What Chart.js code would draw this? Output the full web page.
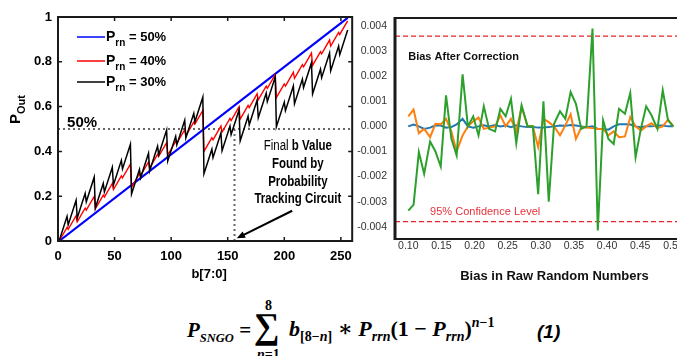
<!DOCTYPE html>
<html>
<head>
<meta charset="utf-8">
<title>Probability tracking and bias correction</title>
<script src="https://cdn.jsdelivr.net/npm/chart.js@4.4.1/dist/chart.umd.min.js"></script>
<style>
  html, body { margin: 0; padding: 0; background: #fff; }
  body { width: 677px; height: 356px; overflow: hidden; position: relative; }
  canvas { position: absolute; top: 0; }
  #left { left: 0; }
  #right { left: 330px; }
  .eq { position: absolute; white-space: nowrap; font-family: "Liberation Serif", "DejaVu Serif", serif; font-weight: bold; color: #000; line-height: 24px; }
  .eq i { font-style: italic; }
  .eq sub { font-size: 14px; vertical-align: -5px; line-height: 0; }
  .eq sup { font-size: 14px; vertical-align: 9px; line-height: 0; }
  .eq sub.small { font-size: 12.5px; }
</style>
</head>
<body>
<canvas id="left" width="360" height="285"></canvas>
<canvas id="right" width="365" height="290"></canvas>

<div class="eq" style="left:187px; top:318px; font-size:21px;"><i>P</i><sub class="small"><i>SNGO</i></sub> =</div>
<div class="eq" style="left:265px; top:294px; font-size:14px;">8</div>
<div class="eq" style="left:254px; top:306px; font-size:36px; line-height:40px;">∑</div>
<div class="eq" style="left:257px; top:343px; font-size:14px;"><i>n</i>=1</div>
<div class="eq" style="left:289px; top:317px; font-size:22px;"><i>b</i><sub>[8−<i>n</i>]</sub> ∗ <i>P</i><sub><i>rrn</i></sub>(1 − <i>P</i><sub><i>rrn</i></sub>)<sup><i>n</i>−1</sup></div>
<div class="eq" style="left:537px; top:320px; font-family:'Liberation Sans', sans-serif; font-style:italic; font-size:19px;">(1)</div>

<script>
// ---- left panel: P_out vs b[7:0] ----
const bCodes = [1, 8, 9, 16, 17, 24, 25, 32, 33, 40, 41, 48, 49, 56, 57, 64,
  65, 72, 73, 80, 81, 88, 89, 96, 97, 104, 105, 112, 113, 120, 121, 128,
  129, 136, 137, 144, 145, 152, 153, 160, 161, 168, 169, 176, 177, 184, 185, 192,
  193, 200, 201, 208, 209, 216, 217, 224, 225, 232, 233, 240, 241, 248, 249, 256];
const pOut40 = [0, 0.061, 0.052, 0.113, 0.086, 0.147, 0.138, 0.199, 0.144, 0.205, 0.196, 0.257, 0.230, 0.291, 0.282, 0.343,
  0.240, 0.301, 0.292, 0.353, 0.326, 0.387, 0.378, 0.439, 0.384, 0.445, 0.436, 0.497, 0.470, 0.531, 0.522, 0.583,
  0.400, 0.461, 0.452, 0.513, 0.486, 0.547, 0.538, 0.599, 0.544, 0.605, 0.596, 0.657, 0.630, 0.691, 0.682, 0.743,
  0.640, 0.701, 0.692, 0.753, 0.726, 0.787, 0.778, 0.839, 0.784, 0.845, 0.836, 0.897, 0.870, 0.931, 0.922, 0.983];
const pOut30 = [0, 0.110, 0.072, 0.182, 0.103, 0.213, 0.175, 0.285, 0.147, 0.257, 0.219, 0.329, 0.250, 0.360, 0.322, 0.432,
  0.210, 0.320, 0.282, 0.392, 0.313, 0.423, 0.385, 0.495, 0.357, 0.467, 0.429, 0.539, 0.460, 0.570, 0.532, 0.642,
  0.300, 0.410, 0.372, 0.482, 0.403, 0.513, 0.475, 0.585, 0.447, 0.557, 0.519, 0.629, 0.550, 0.660, 0.622, 0.732,
  0.510, 0.620, 0.582, 0.692, 0.613, 0.723, 0.685, 0.795, 0.657, 0.767, 0.729, 0.839, 0.760, 0.870, 0.832, 0.942];
const bEnds = [1, 256];
const pOut50 = [0, 0.996];
const bTicks = [0, 50, 100, 150, 200, 250];
const pTicks = [0, 0.2, 0.4, 0.6, 0.8, 1];
const targetP = 0.5;   // 50% guide line
const finalB = 156;    // b value found by the tracking circuit

// ---- right panel: bias after correction ----
const rawBias = [0.100, 0.108, 0.116, 0.124, 0.133, 0.141, 0.149, 0.157, 0.165, 0.173,
  0.182, 0.190, 0.198, 0.206, 0.214, 0.222, 0.231, 0.239, 0.247, 0.255,
  0.263, 0.271, 0.280, 0.288, 0.296, 0.304, 0.312, 0.320, 0.329, 0.337,
  0.345, 0.353, 0.361, 0.369, 0.378, 0.386, 0.394, 0.402, 0.410, 0.418,
  0.427, 0.435, 0.443, 0.451, 0.459, 0.467, 0.476, 0.484, 0.492, 0.500];
const biasBlue = [0, 0.00007, 0, -0.0001, -0.00005, 0.00004, 0.00003, -0.00005, -0.00003, 0.00008,
  0.0003, 0, -0.00005, 0, 0.00004, 0, 0.00005, 0, 0.00003, -0.00003,
  0.00004, 0, -0.00003, -0.00003, -0.00005, -0.00005, -0.00003, 0, 0.00003, 0.00002,
  0.00005, 0.00003, 0, -0.00003, 0, -0.0001, -0.0001, -0.00013, 0, 0.00008,
  0.00008, 0.00007, 0, -0.00003, 0, 0, 0.00003, 0.00003, 0, 0];
const biasOrange = [0.0004, 0.00067, -0.00027, -0.0001, -0.00043, 0.0001, 0.00008, 0.0003, -0.0002, -0.001,
  -0.00036, 0, 0.0002, 0.00035, -0.0001, -0.00005, 0, 0.00044, 0, 0.0003,
  -0.0002, 0.00077, 0, 0, -0.00083, 0.0003, 0.00017, 0, -0.00036, 0.00004,
  0.00048, -0.0005, -0.00005, -0.00005, -0.00007, -0.0001, -0.0001, -0.00036, -0.0002, -0.00043,
  -0.0004, 0.00037, 0, -0.00016, 0, 0.00013, -0.00007, 0, 0.00027, 0];
const biasGreen = [-0.00336, -0.00313, -0.00103, -0.00189, -0.0006, -0.001, -0.0016, 0.00124, -0.00049, -0.00116,
  0.00207, 0, 0.0004, -0.00036, 0.0008, -0.0001, -0.0002, 0.0007, 0.0004, 0.0011,
  -0.00067, 0.00084, 0, 0, -0.0027, 0.001, -0.003, 0.0001, 0.0006, 0.0003,
  0.00137, 0.0009, -0.0001, 0, 0.0039, -0.00415, 0.00024, -0.0005, -0.0007, 0.0007,
  0.0005, 0.00133, -0.00123, -0.0001, 0.0008, 0.00044, -0.0001, 0.00144, 0.00024, 0];
const biasTicks = [0.10, 0.15, 0.20, 0.25, 0.30, 0.35, 0.40, 0.45, 0.50];
const residTicks = [-0.004, -0.003, -0.002, -0.001, 0, 0.001, 0.002, 0.003, 0.004];
const ciHigh = 0.0036;
const ciLow = -0.0038;

const SANS = '"Liberation Sans", Arial, sans-serif';

const pts = (xs, ys) => xs.map((x, i) => ({ x: x, y: ys[i] }));

// text with a subscript, left aligned, baseline middle
function subText(ctx, x, y, main, sub, rest, size, subSize, drop) {
  ctx.font = 'bold ' + size + 'px ' + SANS;
  ctx.fillText(main, x, y);
  x += ctx.measureText(main).width;
  ctx.font = 'bold ' + subSize + 'px ' + SANS;
  ctx.fillText(sub, x, y + drop);
  x += ctx.measureText(sub).width;
  if (rest) {
    ctx.font = 'bold ' + (size - 1) + 'px ' + SANS;
    ctx.fillText(rest, x, y);
  }
}

// centred line made of parts in different weights, squeezed horizontally
function mixedLine(ctx, parts, cx, cy, sx) {
  let total = 0;
  parts.forEach(p => { ctx.font = p[1]; total += ctx.measureText(p[0]).width; });
  ctx.save();
  ctx.translate(cx, cy);
  ctx.scale(sx, 1);
  let x = -total / 2;
  parts.forEach(p => { ctx.font = p[1]; ctx.fillText(p[0], x, 0); x += ctx.measureText(p[0]).width; });
  ctx.restore();
}

const leftDecor = {
  id: 'leftDecor',
  beforeDatasetsDraw(chart) {
    const { ctx, chartArea: a, scales: { x, y } } = chart;
    const py = y.getPixelForValue(targetP);
    const px = x.getPixelForValue(finalB);
    ctx.save();
    ctx.strokeStyle = '#666';
    ctx.lineWidth = 2;
    ctx.setLineDash([2, 3]);
    ctx.beginPath();
    ctx.moveTo(a.left, py); ctx.lineTo(a.right, py);
    ctx.moveTo(px, py); ctx.lineTo(px, a.bottom);
    ctx.stroke();
    ctx.restore();
  },
  afterDraw(chart) {
    const { ctx, chartArea: a, scales: { x, y } } = chart;
    ctx.save();
    // box with inward ticks
    ctx.strokeStyle = '#1a1a1a';
    ctx.lineWidth = 2;
    ctx.strokeRect(a.left, a.top, a.right - a.left, a.bottom - a.top);
    ctx.lineWidth = 1.5;
    ctx.beginPath();
    x.ticks.forEach(t => {
      const p = x.getPixelForValue(t.value);
      ctx.moveTo(p, a.bottom); ctx.lineTo(p, a.bottom - 4);
      ctx.moveTo(p, a.top); ctx.lineTo(p, a.top + 4);
    });
    y.ticks.forEach(t => {
      const p = y.getPixelForValue(t.value);
      ctx.moveTo(a.left, p); ctx.lineTo(a.left + 4, p);
      ctx.moveTo(a.right, p); ctx.lineTo(a.right - 4, p);
    });
    ctx.stroke();

    // legend
    const rows = [['#0000ff', ' = 50%', 37], ['#ff0000', ' = 40%', 61], ['#000000', ' = 30%', 82]];
    ctx.textBaseline = 'middle';
    ctx.textAlign = 'left';
    ctx.fillStyle = '#000';
    rows.forEach(r => {
      ctx.strokeStyle = r[0];
      ctx.lineWidth = 1.5;
      ctx.beginPath(); ctx.moveTo(77, r[2]); ctx.lineTo(105, r[2]); ctx.stroke();
      subText(ctx, 106, r[2], 'P', 'rn', r[1], 14, 10, 6);
    });

    // 50% label
    ctx.font = 'bold 15px ' + SANS;
    ctx.fillText('50%', x.getPixelForValue(8), y.getPixelForValue(0.527));

    // annotation text
    const cx = x.getPixelForValue(212);
    const nb = 'bold 14px ' + SANS, nn = '14px ' + SANS;
    mixedLine(ctx, [['Final ', nn], ['b Value', nb]], cx, y.getPixelForValue(0.424), 0.82);
    mixedLine(ctx, [['Found by', nb]], cx, y.getPixelForValue(0.344), 0.82);
    mixedLine(ctx, [['Probability', nb]], cx, y.getPixelForValue(0.263), 0.82);
    mixedLine(ctx, [['Tracking Circuit', nb]], cx, y.getPixelForValue(0.187), 0.82);

    // arrow to final b
    const x0 = x.getPixelForValue(207), y0 = y.getPixelForValue(0.135);
    const x1 = x.getPixelForValue(158), y1 = y.getPixelForValue(0.012);
    const ang = Math.atan2(y1 - y0, x1 - x0);
    ctx.strokeStyle = '#000';
    ctx.lineWidth = 2;
    ctx.beginPath(); ctx.moveTo(x0, y0); ctx.lineTo(x1 - 6 * Math.cos(ang), y1 - 6 * Math.sin(ang)); ctx.stroke();
    ctx.beginPath();
    ctx.moveTo(x1, y1);
    ctx.lineTo(x1 - 9 * Math.cos(ang - 0.4), y1 - 9 * Math.sin(ang - 0.4));
    ctx.lineTo(x1 - 9 * Math.cos(ang + 0.4), y1 - 9 * Math.sin(ang + 0.4));
    ctx.closePath(); ctx.fill();

    // axis titles
    ctx.save();
    ctx.translate(16, 124);
    ctx.rotate(-Math.PI / 2);
    subText(ctx, 0, 0, 'P', 'Out', '', 15, 11, 6);
    ctx.restore();
    ctx.textAlign = 'center';
    ctx.font = 'bold 13px ' + SANS;
    ctx.fillText('b[7:0]', (a.left + a.right) / 2 + 4, 274);
    ctx.restore();
  }
};

new Chart(document.getElementById('left'), {
  type: 'line',
  data: {
    datasets: [
      { data: pts(bCodes, pOut30), borderColor: '#000000', borderWidth: 1.5, pointRadius: 0, order: 1 },
      { data: pts(bCodes, pOut40), borderColor: '#ff0000', borderWidth: 1.4, pointRadius: 0, order: 2 },
      { data: pts(bEnds, pOut50), borderColor: '#0000ff', borderWidth: 2.2, pointRadius: 0, order: 3 }
    ]
  },
  options: {
    responsive: false,
    animation: false,
    layout: { padding: { top: 17, right: 7.4, left: 0, bottom: 0 } },
    plugins: { legend: { display: false }, tooltip: { enabled: false } },
    scales: {
      x: {
        type: 'linear', min: 0, max: 260,
        afterBuildTicks: s => { s.ticks = bTicks.map(v => ({ value: v })); },
        afterFit: s => { s.height = 44; },
        grid: { display: false, drawTicks: false },
        border: { display: false },
        ticks: { color: '#000', padding: 8, maxRotation: 0, autoSkip: false, font: { family: SANS, size: 13, weight: 'bold' } }
      },
      y: {
        type: 'linear', min: 0, max: 1,
        afterBuildTicks: s => { s.ticks = pTicks.map(v => ({ value: v })); },
        afterFit: s => { s.width = 58; },
        grid: { display: false, drawTicks: false },
        border: { display: false },
        ticks: { color: '#000', padding: 6, autoSkip: false, callback: v => String(v), font: { family: SANS, size: 13, weight: 'bold' } }
      }
    }
  },
  plugins: [leftDecor]
});

const rightDecor = {
  id: 'rightDecor',
  beforeDatasetsDraw(chart) {
    const { ctx, chartArea: a, scales: { y } } = chart;
    ctx.save();
    ctx.strokeStyle = '#e8232b';
    ctx.lineWidth = 1.3;
    ctx.setLineDash([5, 3]);
    [ciHigh, ciLow].forEach(v => {
      const p = y.getPixelForValue(v);
      ctx.beginPath(); ctx.moveTo(a.left, p); ctx.lineTo(a.right, p); ctx.stroke();
    });
    ctx.restore();
  },
  afterDraw(chart) {
    const { ctx, chartArea: a, scales: { x, y } } = chart;
    ctx.save();
    ctx.strokeStyle = '#1a1a1a';
    ctx.lineWidth = 2;
    ctx.strokeRect(a.left, a.top, a.right - a.left, a.bottom - a.top);
    ctx.lineWidth = 3;
    ctx.beginPath(); ctx.moveTo(a.left, a.top - 1); ctx.lineTo(a.left, a.bottom + 1); ctx.stroke();

    ctx.textAlign = 'left';
    ctx.textBaseline = 'middle';
    ctx.fillStyle = '#111';
    ctx.font = 'bold 11px ' + SANS;
    ctx.fillText('Bias After Correction', x.getPixelForValue(0.10), y.getPixelForValue(0.00277));
    ctx.fillStyle = '#e8323a';
    ctx.font = '11px ' + SANS;
    ctx.fillText('95% Confidence Level', x.getPixelForValue(0.133), y.getPixelForValue(-0.0034));

    ctx.fillStyle = '#111';
    ctx.textAlign = 'center';
    ctx.font = 'bold 13px ' + SANS;
    ctx.fillText('Bias in Raw Random Numbers', 224.5, 276);
    ctx.restore();
  }
};

new Chart(document.getElementById('right'), {
  type: 'line',
  data: {
    datasets: [
      { data: pts(rawBias, biasBlue), borderColor: '#1f77b4', borderWidth: 2, pointRadius: 0, order: 3 },
      { data: pts(rawBias, biasOrange), borderColor: '#ff7f0e', borderWidth: 2, pointRadius: 0, order: 2 },
      { data: pts(rawBias, biasGreen), borderColor: '#2ca02c', borderWidth: 2, pointRadius: 0, order: 1 }
    ]
  },
  options: {
    responsive: false,
    animation: false,
    layout: { padding: { top: 18, right: 8.4, left: 0, bottom: 0 } },
    plugins: { legend: { display: false }, tooltip: { enabled: false } },
    scales: {
      x: {
        type: 'linear', min: 0.08, max: 0.52,
        afterBuildTicks: s => { s.ticks = biasTicks.map(v => ({ value: v })); },
        afterFit: s => { s.height = 51; },
        grid: { display: false, drawTicks: false },
        border: { display: false },
        ticks: { color: '#333', padding: 1, maxRotation: 0, autoSkip: false, callback: v => v.toFixed(2), font: { family: SANS, size: 10.5 } }
      },
      y: {
        type: 'linear', min: -0.00449, max: 0.00432,
        afterBuildTicks: s => { s.ticks = residTicks.map(v => ({ value: v })); },
        afterFit: s => { s.width = 65; },
        grid: { display: false, drawTicks: false },
        border: { display: false },
        ticks: { color: '#333', padding: 8, autoSkip: false, callback: v => v.toFixed(3), font: { family: SANS, size: 10.5 } }
      }
    }
  },
  plugins: [rightDecor]
});
</script>
</body>
</html>
